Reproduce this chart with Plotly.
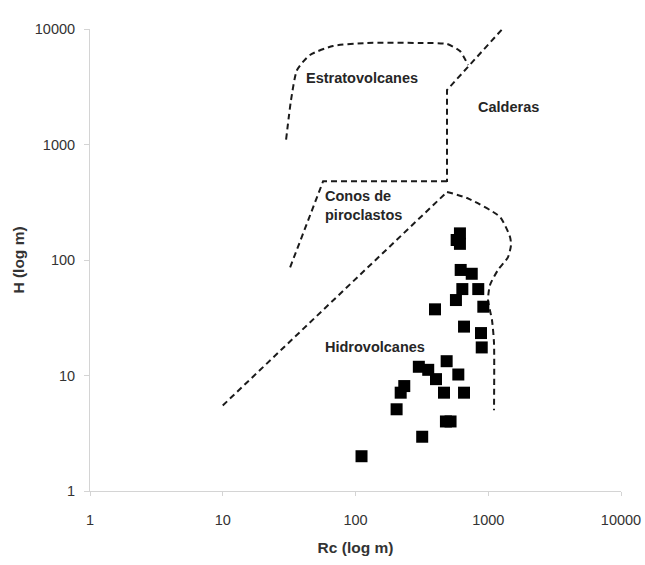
import math
import plotly.graph_objects as go

# Scatter data: crater radius Rc (m) vs height H (m)
rc = [111, 318, 480, 520, 204, 219, 233, 300, 353, 404, 464, 486, 595, 657,
      893, 882, 657, 397, 918, 571, 638, 841, 620, 751, 612, 578, 612]
h = [2.0, 2.95, 4.0, 4.0, 5.1, 7.1, 8.1, 11.9, 11.2, 9.3, 7.1, 13.3, 10.2, 7.1,
     17.5, 23.3, 26.5, 37.4, 39.4, 45, 56, 56, 82, 76, 170, 149, 138]

# Field boundaries (dashed)
estrato_x = [30, 32.7, 36.3, 45.4, 67.7, 122, 306, 489, 612, 704]
estrato_y = [1100, 2430, 4415, 5957, 7128, 7570, 7570, 7420, 6450, 4880]

caldera_x = [1592, 489, 489]
caldera_y = [13213, 2965, 474]

conos_x = [489, 57, 32]
conos_y = [480, 480, 85]

hidro_diag_x = [10, 489]
hidro_diag_y = [5.5, 388]

hidro_curve_x = [489, 692, 1225, 1459, 1484, 1409, 1184, 1031, 996, 1067, 1105, 1105]
hidro_curve_y = [388, 344, 236, 158, 135, 106, 82, 60.8, 45, 30.2, 19.1, 5.0]

tick_vals = [1, 10, 100, 1000, 10000]
tick_text = ["1", "10", "100", "1000", "10000"]

region_labels = ["Estratovolcanes", "Calderas", "Conos de<br>piroclastos", "Hidrovolcanes"]
region_x = [112, 1433, 57, 57]
region_y = [3767, 2113, 299, 17.7]
region_anchor = ["center", "center", "left", "left"]

FONT = "Liberation Sans, Arial, sans-serif"
dash = dict(color="#1a1a1a", width=2, dash="6px,4px")

fig = go.Figure()
fig.add_trace(go.Scatter(x=estrato_x, y=estrato_y, mode="lines",
                         line=dict(**dash, shape="spline", smoothing=0.6), hoverinfo="skip"))
fig.add_trace(go.Scatter(x=caldera_x, y=caldera_y, mode="lines", line=dash, hoverinfo="skip"))
fig.add_trace(go.Scatter(x=conos_x, y=conos_y, mode="lines", line=dash, hoverinfo="skip"))
fig.add_trace(go.Scatter(x=hidro_diag_x, y=hidro_diag_y, mode="lines", line=dash, hoverinfo="skip"))
fig.add_trace(go.Scatter(x=hidro_curve_x, y=hidro_curve_y, mode="lines",
                         line=dict(**dash, shape="spline", smoothing=0.6), hoverinfo="skip"))
fig.add_trace(go.Scatter(x=rc, y=h, mode="markers",
                         marker=dict(symbol="square", size=12, color="black")))

for txt, xx, yy, anc in zip(region_labels, region_x, region_y, region_anchor):
    fig.add_annotation(x=math.log10(xx), y=math.log10(yy), xref="x", yref="y",
                       text=f"<b>{txt}</b>", showarrow=False, xanchor=anc,
                       align="left", font=dict(family=FONT, size=14.5, color="#262626"))

axis_common = dict(type="log", range=[0, 4], tickvals=tick_vals, ticktext=tick_text,
                   showgrid=False, zeroline=False, showline=True, linecolor="#d4d4d4",
                   linewidth=1, ticks="outside", tickcolor="#d4d4d4", automargin=False,
                   tickfont=dict(family=FONT, size=14.5, color="#333"))

fig.update_layout(
    width=645, height=565,
    margin=dict(l=90, r=24, t=29, b=74),
    plot_bgcolor="white", paper_bgcolor="white",
    showlegend=False,
    xaxis=dict(**axis_common, ticklen=4, ticklabelstandoff=12,
               title=dict(text="<b>Rc (log m)</b>", standoff=14,
                          font=dict(family=FONT, size=15.5, color="#333"))),
    yaxis=dict(**axis_common, ticklen=5, ticklabelstandoff=6,
               title=dict(text="<b>H (log m)</b>", standoff=6,
                          font=dict(family=FONT, size=15.5, color="#333"))),
)

fig.write_html("out.html", config={"displayModeBar": False},
               post_script="document.body.style.margin='0';document.body.style.overflow='hidden';")
